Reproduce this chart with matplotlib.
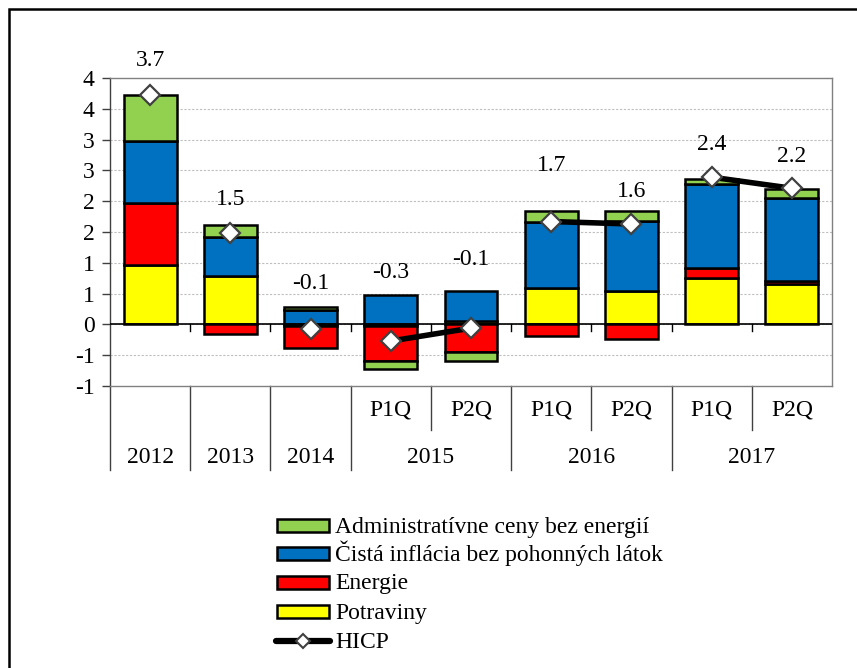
import matplotlib
matplotlib.use("Agg")
import matplotlib.pyplot as plt
import matplotlib.patches as mpatches
from matplotlib.lines import Line2D
import numpy as np

plt.rcParams['font.family'] = ['Liberation Serif', 'DejaVu Serif']

# ---- data ----
categories = ["2012", "2013", "2014", "2015 P1Q", "2015 P2Q", "2016 P1Q", "2016 P2Q", "2017 P1Q", "2017 P2Q"]
quarter_labels = ["", "", "", "P1Q", "P2Q", "P1Q", "P2Q", "P1Q", "P2Q"]
year_labels = ["2012", "2013", "2014", "2015", "2016", "2017"]
year_spans = [(0, 0), (1, 1), (2, 2), (3, 4), (5, 6), (7, 8)]

potraviny = [0.97, 0.79, -0.03, -0.02, 0.05, 0.59, 0.55, 0.75, 0.66]
energie = [1.00, -0.16, -0.36, -0.58, -0.45, -0.19, -0.23, 0.17, 0.05]
cista = [1.01, 0.63, 0.23, 0.47, 0.49, 1.08, 1.13, 1.36, 1.34]
admin = [0.74, 0.20, 0.06, -0.13, -0.14, 0.17, 0.16, 0.08, 0.14]
hicp = [3.73, 1.48, -0.08, -0.27, -0.06, 1.67, 1.63, 2.39, 2.21]
hicp_text = ["3.7", "1.5", "-0.1", "-0.3", "-0.1", "1.7", "1.6", "2.4", "2.2"]
label_y = [4.29, 2.03, 0.66, 0.84, 1.06, 2.58, 2.16, 2.92, 2.73]
line_pairs = [(3, 4), (5, 6), (7, 8)]

ytick_vals = [-1.0, -0.5, 0.0, 0.5, 1.0, 1.5, 2.0, 2.5, 3.0, 3.5, 4.0]
ytick_text = ["-1", "-1", "0", "1", "1", "2", "2", "3", "3", "4", "4"]

series = [
    ("Potraviny", potraviny, "#FFFF00"),
    ("Energie", energie, "#FF0000"),
    ("Čistá inflácia bez pohonných látok", cista, "#0070C0"),
    ("Administratívne ceny bez energií", admin, "#92D050"),
]

W, H = 857, 668
FS = 17
fig = plt.figure(figsize=(W/100, H/100), dpi=100)
ax = fig.add_axes([110/W, 1-386/H, (832-110)/W, (386-78)/H])

x = np.arange(len(categories))
pos_base = np.zeros(len(x))
neg_base = np.zeros(len(x))
for name, vals, col in series:
    v = np.array(vals)
    bottoms = np.where(v >= 0, pos_base, neg_base)
    ax.bar(x, v, bottom=bottoms, width=0.66, color=col, edgecolor='black', linewidth=1.8, zorder=3)
    pos_base = pos_base + np.where(v >= 0, v, 0)
    neg_base = neg_base + np.where(v < 0, v, 0)

for a, b in line_pairs:
    ax.plot([x[a], x[b]], [hicp[a], hicp[b]], color='black', lw=4, zorder=4, solid_capstyle='butt')
ax.plot(x, hicp, linestyle='none', marker='D', ms=10.5, mfc='white', mec='#404040', mew=1.6, zorder=5)

for i in range(len(x)):
    ax.text(x[i], label_y[i], hicp_text[i], ha='center', va='center', fontsize=FS, clip_on=False, zorder=6)

ax.set_xlim(-0.5, len(x) - 0.5)
ax.set_ylim(-1.0, 4.0)
ax.set_yticks(ytick_vals)
ax.set_yticklabels(ytick_text, fontsize=FS)
ax.tick_params(axis='y', direction='out', length=6, width=1, color='#404040', pad=5)
ax.set_xticks([])
for yv in ytick_vals[1:-1]:
    ax.axhline(yv, color='#BFBFBF', lw=0.8, linestyle=(0, (2, 1.5)), zorder=1)
for s in ['top', 'right', 'bottom']:
    ax.spines[s].set_color('#808080')
    ax.spines[s].set_linewidth(1.0)
ax.spines['left'].set_color('#404040')
ax.spines['left'].set_linewidth(1.0)

# zero axis with category tick marks
ax.axhline(0, color='black', lw=1.2, zorder=4)
for b in np.arange(-0.5, len(x) - 0.5, 1.0)[1:]:
    ax.plot([b, b], [0, -0.1], color='black', lw=1.0, zorder=2)

# category labels below plot
trans = ax.get_xaxis_transform()
for i, q in enumerate(quarter_labels):
    if q:
        ax.text(x[i], -0.078, q, transform=trans, ha='center', va='center', fontsize=FS, clip_on=False)
for lbl, (s, e) in zip(year_labels, year_spans):
    ax.text((x[s] + x[e]) / 2, -0.232, lbl, transform=trans, ha='center', va='center', fontsize=FS, clip_on=False)
    ax.plot([s - 0.5, s - 0.5], [0, -0.273], transform=trans, color='#404040', lw=1.0, clip_on=False)
    if e > s:
        ax.plot([s + 0.5, s + 0.5], [0, -0.143], transform=trans, color='#404040', lw=1.0, clip_on=False)

# legend (drawn in figure pixel coordinates)
def fx(px):
    return px / W

def fy(py):
    return 1 - py / H

leg_rows = [525, 553.5, 582, 611.5, 641]
for (name, _, col), yc in zip(series[::-1], leg_rows[:4]):
    fig.patches.append(mpatches.Rectangle((fx(277), fy(yc + 6.5)), fx(329) - fx(277), 13 / H,
                                          transform=fig.transFigure, facecolor=col, edgecolor='black', lw=1.8))
    fig.text(fx(335), fy(yc + 7.5), name, ha='left', va='baseline', fontsize=FS)
yc = leg_rows[4]
fig.lines.append(Line2D([fx(276), fx(330)], [fy(yc), fy(yc)], transform=fig.transFigure, color='black', lw=4.5,
                        solid_capstyle='round'))
fig.lines.append(Line2D([fx(303)], [fy(yc)], transform=fig.transFigure, marker='D', ms=7, mfc='white',
                        mec='#404040', mew=1.5, linestyle='none'))
fig.text(fx(335), fy(yc + 7.5), 'HICP', ha='left', va='baseline', fontsize=FS)

# outer border
fig.patches.append(mpatches.Rectangle((9/W, -0.1), 1.2, 1 - 9/H + 0.1, transform=fig.transFigure,
                                      fill=False, edgecolor='black', lw=1.8, zorder=0))

fig.savefig("out.png", dpi=100)
